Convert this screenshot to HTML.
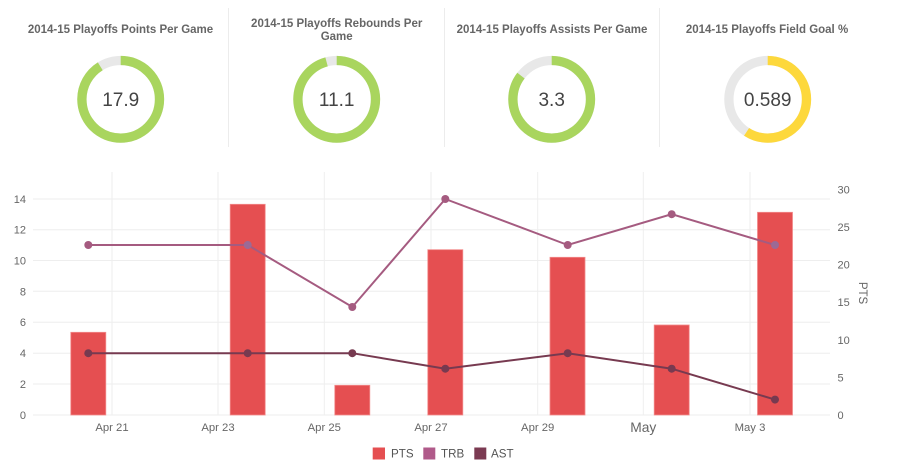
<!DOCTYPE html>
<html><head><meta charset="utf-8"><style>
html,body{margin:0;padding:0;background:#fff;}
svg{display:block;font-family:"Liberation Sans",Arial,sans-serif;}
</style></head><body>
<svg width="900" height="475" viewBox="0 0 900 475" xmlns="http://www.w3.org/2000/svg">
<rect width="900" height="475" fill="#fff"/>
<!-- dividers -->
<g stroke="#ececec" stroke-width="1">
<line x1="228.5" y1="8" x2="228.5" y2="147"/>
<line x1="444.5" y1="8" x2="444.5" y2="147"/>
<line x1="659.5" y1="8" x2="659.5" y2="147"/>
</g>
<!-- titles -->
<g font-weight="bold" font-size="11.5" fill="#666" text-anchor="middle">
<text x="120.5" y="33">2014-15 Playoffs Points Per Game</text>
<text x="336.7" y="27">2014-15 Playoffs Rebounds Per</text>
<text x="336.7" y="40">Game</text>
<text x="552" y="33">2014-15 Playoffs Assists Per Game</text>
<text x="767" y="33">2014-15 Playoffs Field Goal %</text>
</g>
<!-- gauges -->
<g fill="none" stroke-width="9.3">
<circle cx="120.7" cy="99.3" r="38.8" stroke="#e8e8e8"/>
<circle cx="120.7" cy="99.3" r="38.8" stroke="#a9d55e" stroke-dasharray="221.9 300" transform="rotate(-90 120.7 99.3)"/>
<circle cx="336.7" cy="99.3" r="38.8" stroke="#e8e8e8"/>
<circle cx="336.7" cy="99.3" r="38.8" stroke="#a9d55e" stroke-dasharray="233.1 300" transform="rotate(-90 336.7 99.3)"/>
<circle cx="551.7" cy="99.3" r="38.8" stroke="#e8e8e8"/>
<circle cx="551.7" cy="99.3" r="38.8" stroke="#a9d55e" stroke-dasharray="208.0 300" transform="rotate(-90 551.7 99.3)"/>
<circle cx="767.7" cy="99.3" r="38.8" stroke="#e8e8e8"/>
<circle cx="767.7" cy="99.3" r="38.8" stroke="#fdd83c" stroke-dasharray="144.0 300" transform="rotate(-90 767.7 99.3)"/>
</g>
<g font-size="19" fill="#444" text-anchor="middle">
<text x="120.7" y="106">17.9</text>
<text x="336.7" y="106">11.1</text>
<text x="551.7" y="106">3.3</text>
<text x="767.7" y="106">0.589</text>
</g>
<!-- grid -->
<g stroke="#eeeeee" stroke-width="1">
<line x1="112" y1="172" x2="112" y2="415"/>
<line x1="218" y1="172" x2="218" y2="415"/>
<line x1="324.3" y1="172" x2="324.3" y2="415"/>
<line x1="431" y1="172" x2="431" y2="415"/>
<line x1="537.7" y1="172" x2="537.7" y2="415"/>
<line x1="643.3" y1="172" x2="643.3" y2="415"/>
<line x1="750" y1="172" x2="750" y2="415"/>
<line x1="33" y1="199" x2="830" y2="199"/>
<line x1="33" y1="229.7" x2="830" y2="229.7"/>
<line x1="33" y1="260.5" x2="830" y2="260.5"/>
<line x1="33" y1="291.3" x2="830" y2="291.3"/>
<line x1="33" y1="322.2" x2="830" y2="322.2"/>
<line x1="33" y1="353.2" x2="830" y2="353.2"/>
<line x1="33" y1="384" x2="830" y2="384"/>
<line x1="33" y1="415" x2="830" y2="415"/>
</g>
<!-- bars -->
<g fill="#e54f51" stroke="#f28b8b" stroke-width="0.8">
<rect x="70.8" y="332.3" width="35" height="82.7"/>
<rect x="230.2" y="204.3" width="35" height="210.7"/>
<rect x="334.8" y="385.3" width="35" height="29.7"/>
<rect x="427.8" y="249.7" width="35" height="165.3"/>
<rect x="550" y="257.3" width="35" height="157.7"/>
<rect x="654.2" y="325" width="35" height="90"/>
<rect x="757.5" y="212.3" width="35" height="202.7"/>
</g>
<!-- TRB -->
<polyline fill="none" stroke="#a55b80" stroke-width="2" points="88.3,245 247.7,245 352.3,307 445.3,199 567.7,245 671.7,214.2 775,245"/>
<g fill="#a55b80">
<circle cx="88.3" cy="245" r="4"/><circle cx="247.7" cy="245" r="4" fill="#9c6a95"/><circle cx="352.3" cy="307" r="4"/><circle cx="445.3" cy="199" r="4"/><circle cx="567.7" cy="245" r="4"/><circle cx="671.7" cy="214.2" r="4"/><circle cx="775" cy="245" r="4" fill="#9c6a95"/>
</g>
<!-- AST -->
<polyline fill="none" stroke="#773a50" stroke-width="2" points="88.3,353.2 247.7,353.2 352.3,353.2 445.3,368.7 567.7,353.2 671.7,368.7 775,399.6"/>
<g fill="#773a50">
<circle cx="88.3" cy="353.2" r="4"/><circle cx="247.7" cy="353.2" r="4"/><circle cx="352.3" cy="353.2" r="4"/><circle cx="445.3" cy="368.7" r="4"/><circle cx="567.7" cy="353.2" r="4"/><circle cx="671.7" cy="368.7" r="4"/><circle cx="775" cy="399.6" r="4"/>
</g>
<!-- left axis labels -->
<g font-size="11" fill="#666" text-anchor="end">
<text x="26" y="419">0</text>
<text x="26" y="388">2</text>
<text x="26" y="357.2">4</text>
<text x="26" y="326.2">6</text>
<text x="26" y="295.3">8</text>
<text x="26" y="264.5">10</text>
<text x="26" y="233.7">12</text>
<text x="26" y="203">14</text>
</g>
<!-- right axis labels -->
<g font-size="11" fill="#666" text-anchor="start">
<text x="837.5" y="419">0</text>
<text x="837.5" y="381.4">5</text>
<text x="837.5" y="343.8">10</text>
<text x="837.5" y="306.2">15</text>
<text x="837.5" y="268.6">20</text>
<text x="837.5" y="231">25</text>
<text x="837.5" y="193.4">30</text>
</g>
<text x="859" y="293" font-size="11.5" fill="#666" text-anchor="middle" transform="rotate(90 859 293)">PTS</text>
<!-- x labels -->
<g font-size="11.3" fill="#666" text-anchor="middle">
<text x="112" y="431">Apr 21</text>
<text x="218" y="431">Apr 23</text>
<text x="324.3" y="431">Apr 25</text>
<text x="431" y="431">Apr 27</text>
<text x="537.7" y="431">Apr 29</text>
<text x="643.3" y="432" font-size="13.8">May</text>
<text x="750" y="431">May 3</text>
</g>
<!-- legend -->
<rect x="372.7" y="447.5" width="12.3" height="12" fill="#e54f51"/>
<text x="391" y="457.5" font-size="11.6" fill="#555">PTS</text>
<rect x="423.3" y="447.5" width="12" height="12" fill="#b05a8a"/>
<text x="441" y="457.5" font-size="11.6" fill="#555">TRB</text>
<rect x="474.3" y="447.5" width="12" height="12" fill="#7b3a52"/>
<text x="491" y="457.5" font-size="11.6" fill="#555">AST</text>
</svg>
</body></html>
